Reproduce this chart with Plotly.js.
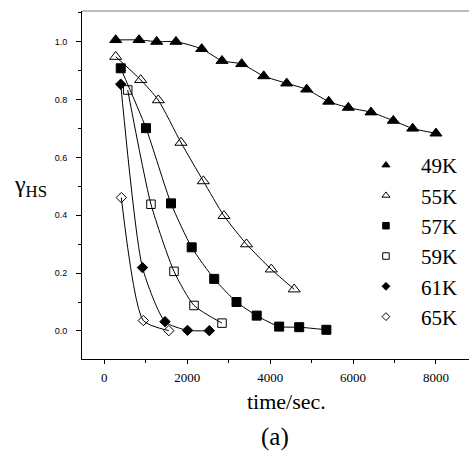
<!DOCTYPE html>
<html><head><meta charset="utf-8">
<script src="https://cdn.plot.ly/plotly-3.0.1.min.js"></script>
<style>html,body{margin:0;padding:0;background:#fff;}#chart{width:469px;height:454px;}</style>
</head><body><div id="chart"></div>
<script>
// Data (time in sec, gamma_HS)
var seriesNames = ["49K", "55K", "57K", "59K", "61K", "65K"];
var t49 = [275, 837, 1263, 1729, 2349, 2839, 3314, 3845, 4400, 4882, 5413, 5886, 6433, 6971, 7438, 8000];
var g49 = [1.006, 1.006, 1.0, 1.0, 0.975, 0.934, 0.923, 0.881, 0.856, 0.835, 0.793, 0.772, 0.756, 0.727, 0.70, 0.683];
var t55 = [275, 878, 1302, 1850, 2388, 2887, 3430, 4028, 4580];
var g55 = [0.948, 0.868, 0.798, 0.651, 0.518, 0.398, 0.300, 0.213, 0.144];
var t57 = [396, 1006, 1609, 2108, 2651, 3189, 3676, 4218, 4701, 5357];
var g57 = [0.908, 0.701, 0.441, 0.289, 0.180, 0.100, 0.053, 0.015, 0.013, 0.004];
var t59 = [564, 1126, 1681, 2164, 2839];
var g59 = [0.833, 0.438, 0.206, 0.088, 0.027];
var t61 = [396, 921, 1464, 2007, 2533];
var g61 = [0.853, 0.219, 0.032, 0.002, 0.001];
var t65 = [410, 941, 1556];
var g65 = [0.461, 0.036, 0.001];
var xTickVals = [0, 2000, 4000, 6000, 8000];
var yTickVals = [0.0, 0.2, 0.4, 0.6, 0.8, 1.0];

var xs = [t49, t55, t57, t59, t61, t65];
var ys = [g49, g55, g57, g59, g61, g65];
var symbols = ["triangle-up", "triangle-up-open", "square", "square-open", "diamond", "diamond-open"];
var sizes = [10.5, 10.5, 9, 8.5, 8, 8];
var legendSizes = [7, 7, 6.5, 6.5, 6, 6];

var serif = "'Liberation Serif', 'Times New Roman', serif";
var sans = "'Liberation Sans', Arial, sans-serif";

var traces = [];
for (var i = 0; i < xs.length; i++) {
  traces.push({
    x: xs[i], y: ys[i], type: "scatter", mode: "lines+markers",
    line: {color: "black", width: 1, shape: "spline", smoothing: 0.6},
    marker: {symbol: symbols[i], size: sizes[i], color: "black", line: {color: "black", width: 1}},
    showlegend: false, hoverinfo: "x+y"
  });
}
for (var j = 0; j < xs.length; j++) {
  traces.push({
    x: [null], y: [null], type: "scatter", mode: "markers", name: seriesNames[j],
    marker: {symbol: symbols[j], size: legendSizes[j], color: "black", line: {color: "black", width: 1}},
    showlegend: true
  });
}

var layout = {
  width: 469, height: 454,
  margin: {l: 82, r: 0, t: 11, b: 95},
  paper_bgcolor: "white", plot_bgcolor: "white",
  showlegend: true,
  legend: {
    x: 0.695, y: 0.615, xanchor: "left", yanchor: "top",
    font: {family: serif, size: 21, color: "black"},
    bgcolor: "rgba(0,0,0,0)", borderwidth: 0, itemwidth: 60
  },
  xaxis: {
    range: [-538, 8797], showgrid: false, zeroline: false,
    showline: true, linecolor: "black", linewidth: 1, mirror: false,
    tickmode: "array", tickvals: xTickVals, ticktext: xTickVals.map(String),
    ticks: "outside", ticklen: 4, tickwidth: 1, tickcolor: "black",
    minor: {dtick: 1000, tick0: 0, ticks: "outside", ticklen: 3, tickcolor: "black", showgrid: false},
    tickfont: {family: serif, size: 13, color: "black"},
    ticklabelstandoff: 2
  },
  yaxis: {
    range: [-0.097, 1.106], showgrid: false, zeroline: false,
    showline: true, linecolor: "black", linewidth: 1,
    tickmode: "array", tickvals: yTickVals, ticktext: yTickVals.map(function(v){return v.toFixed(1);}),
    ticks: "outside", ticklen: 5, tickwidth: 1, tickcolor: "black",
    minor: {dtick: 0.1, tick0: 0, ticks: "outside", ticklen: 3, tickcolor: "black", showgrid: false},
    tickfont: {family: sans, size: 9, color: "black"},
    ticklabelstandoff: 7
  },
  shapes: [
    {type: "line", xref: "paper", yref: "paper", x0: 0, x1: 1, y0: 1, y1: 1, line: {color: "#777", width: 1}}
  ],
  annotations: [
    {text: "γ<sub>HS</sub>", xref: "paper", yref: "y", x: -0.18, y: 0.5, xanchor: "left", yanchor: "middle",
     showarrow: false, font: {family: serif, size: 24, color: "black"}},
    {text: "time/sec.", xref: "paper", yref: "paper", x: 0.528, y: -0.123, xanchor: "center", yanchor: "middle",
     showarrow: false, font: {family: serif, size: 22, color: "black"}},
    {text: "(a)", xref: "paper", yref: "paper", x: 0.499, y: -0.225, xanchor: "center", yanchor: "middle",
     showarrow: false, font: {family: serif, size: 25, color: "black"}}
  ]
};

Plotly.newPlot("chart", traces, layout, {displayModeBar: false, staticPlot: true});
</script>
</body></html>
